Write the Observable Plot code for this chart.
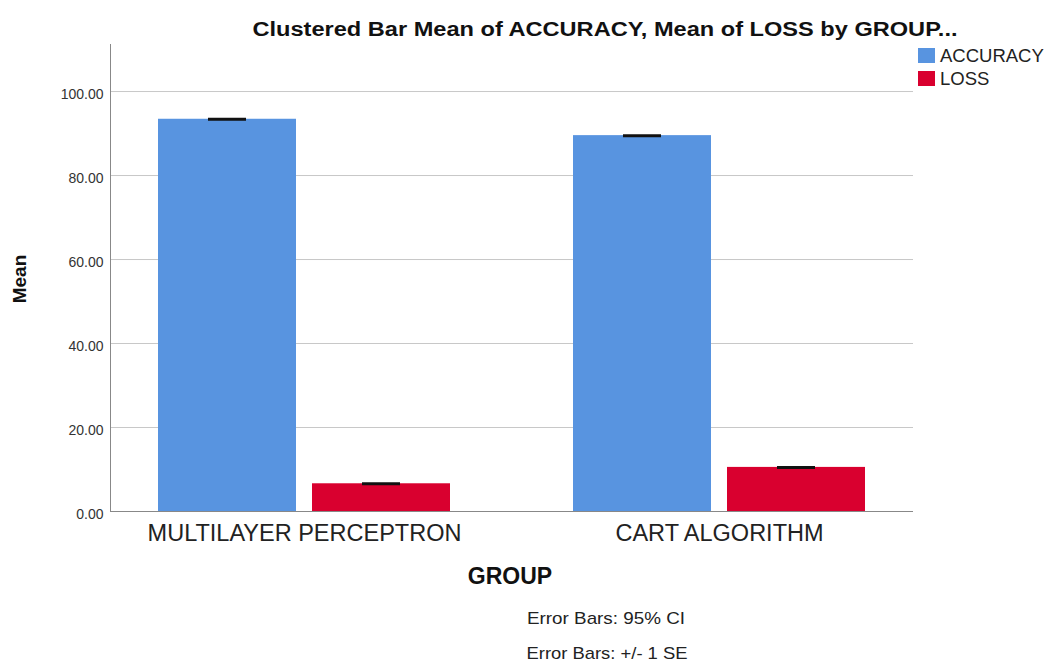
<!DOCTYPE html>
<html>
<head>
<meta charset="utf-8">
<script src="https://cdn.jsdelivr.net/npm/d3@7"></script>
<script src="https://cdn.jsdelivr.net/npm/@observablehq/plot@0.6"></script>
<style>
  html, body { margin: 0; padding: 0; background: #fff; }
  #wrap { position: relative; width: 1051px; height: 662px; font-family: "Liberation Sans", Arial, sans-serif; }
  #wrap svg { position: absolute; left: 0; top: 0; }
</style>
</head>
<body>
<div id="wrap"></div>
<script>
// ---- data ----
const groups = ["MULTILAYER PERCEPTRON", "CART ALGORITHM"];
const seriesNames = ["ACCURACY", "LOSS"];
const accuracyMeans = [93.4, 89.5];
const lossMeans = [6.6, 10.5];
const yTicks = [0, 20, 40, 60, 80, 100];
const titleText = "Clustered Bar Mean of ACCURACY, Mean of LOSS by GROUP...";
const yLabel = "Mean";
const xLabel = "GROUP";
const footnotes = ["Error Bars: 95% CI", "Error Bars: +/- 1 SE"];
const colors = ["#5894E0", "#D9002F"];

const accData = groups.map((g, i) => ({group: g, value: accuracyMeans[i]}));
const lossData = groups.map((g, i) => ({group: g, value: lossMeans[i]}));

const chart = Plot.plot({
  width: 1051,
  height: 662,
  marginLeft: 110,
  marginRight: 138,
  marginTop: 44,
  marginBottom: 151,
  style: {fontFamily: "Liberation Sans, Arial, sans-serif", background: "transparent"},
  x: {type: "band", domain: groups, paddingInner: 0.2, paddingOuter: 0.066},
  y: {domain: [0, 111.2]},
  marks: [
    Plot.gridY(yTicks, {stroke: "#c8c8c8", strokeOpacity: 1}),
    Plot.axisY(yTicks, {tickSize: 0, tickPadding: 7, tickFormat: d3.format(".2f"), fontSize: 14, fill: "#333", label: null, dy: 3}),
    Plot.axisX({tickSize: 0, tickPadding: 13, fontSize: 23.5, fill: "#222", label: null}),
    Plot.barY(accData, {x: "group", y: "value", fill: colors[0], insetLeft: 20, insetRight: 174}),
    Plot.barY(lossData, {x: "group", y: "value", fill: colors[1], insetLeft: 174, insetRight: 20}),
    Plot.tickY(accData, {x: "group", y: "value", stroke: "#111", strokeWidth: 3, insetLeft: 70, insetRight: 224}),
    Plot.tickY(lossData, {x: "group", y: "value", stroke: "#111", strokeWidth: 3, insetLeft: 224, insetRight: 70}),
    Plot.ruleY([0], {stroke: "#888"}),
    Plot.frame({anchor: "left", stroke: "#888"})
  ]
});

const wrap = document.getElementById("wrap");
wrap.appendChild(chart);

// overlay text layer
const ov = d3.select(wrap).append("svg").attr("width", 1051).attr("height", 662)
  .style("font-family", "Liberation Sans, Arial, sans-serif");

ov.append("text").attr("x", 605).attr("y", 36).attr("text-anchor", "middle")
  .attr("font-size", 20).attr("font-weight", "bold").attr("fill", "#111")
  .attr("textLength", 705).attr("lengthAdjust", "spacingAndGlyphs").text(titleText);

ov.append("text").attr("transform", "translate(26,279) rotate(-90)").attr("text-anchor", "middle")
  .attr("font-size", 19).attr("font-weight", "bold").attr("fill", "#111").text(yLabel);

ov.append("text").attr("x", 510).attr("y", 584).attr("text-anchor", "middle")
  .attr("font-size", 23).attr("font-weight", "bold").attr("fill", "#111").text(xLabel);

ov.append("text").attr("x", 606).attr("y", 624).attr("text-anchor", "middle")
  .attr("font-size", 17).attr("fill", "#222")
  .attr("textLength", 158).attr("lengthAdjust", "spacingAndGlyphs").text(footnotes[0]);
ov.append("text").attr("x", 607).attr("y", 659).attr("text-anchor", "middle")
  .attr("font-size", 17).attr("fill", "#222")
  .attr("textLength", 161).attr("lengthAdjust", "spacingAndGlyphs").text(footnotes[1]);

// legend
seriesNames.forEach((name, i) => {
  const y0 = 48 + i * 23;
  ov.append("rect").attr("x", 918).attr("y", y0).attr("width", 17).attr("height", 15).attr("fill", colors[i]);
  ov.append("text").attr("x", 940).attr("y", y0 + 14).attr("font-size", 18.5).attr("fill", "#222").text(name);
});
</script>
</body>
</html>
